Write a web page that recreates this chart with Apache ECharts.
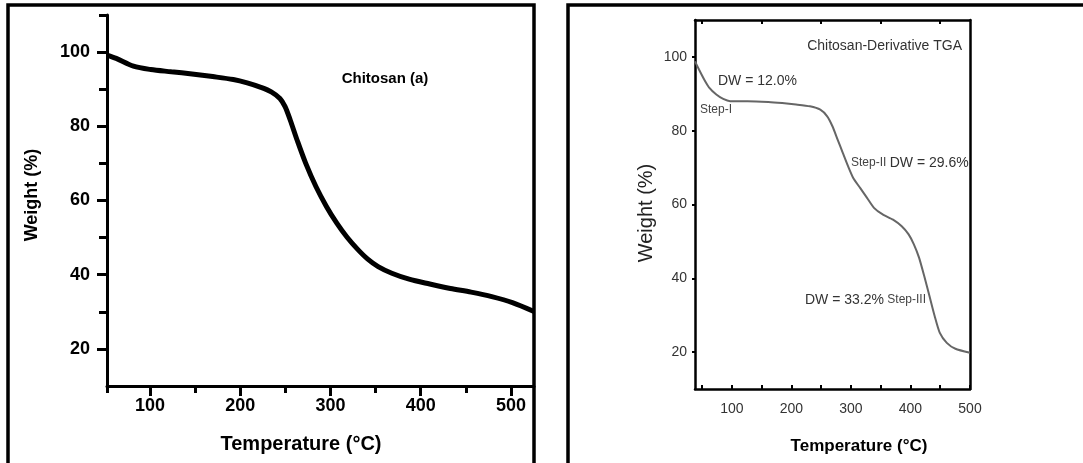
<html>
<head>
    <meta http-equiv="Content-Type" content="text/html; charset=utf-8">
    <script src="https://cdn.jsdelivr.net/npm/echarts@6/dist/echarts.min.js"></script>
    <style>
        * {
            margin: 0;
            padding: 0;
        }

        #main {
            width: 1083px;
            height: 463px;
            background: #fff;
        }
    </style>
</head>
<body>
<div id="main"></div>
<script type="text/javascript">
    // left panel: Chitosan (a)
    let tempA = [52.4, 62.6, 81.7, 100.8, 123.7, 146.6, 169.5, 192.4, 207.7, 222.9, 234.4, 244, 249.7, 255.4, 263,
        272.6, 284, 295.5, 307, 318.4, 329.9, 341.3, 352.8, 368, 387.1, 410, 432.9, 455.8, 478.7, 501.6, 525.5];
    let weightA = [99.2, 98.3, 96.2, 95.3, 94.7, 94.1, 93.4, 92.6, 91.7, 90.5, 89.3, 87.5, 85.3, 81.7, 76.3,
        70.0, 63.7, 58.4, 53.9, 50.1, 46.9, 44.2, 42.2, 40.4, 38.8, 37.5, 36.3, 35.3, 34.1, 32.5, 30.1];

    // right panel: Chitosan-Derivative TGA
    let tempB = [38, 44.7, 53.4, 62.2, 73.8, 85.4, 97.1, 126.2, 161.1, 184.4, 207.7, 231, 248.5, 260.1, 268.9,
        277.6, 286.3, 295.1, 303.8, 315.4, 327, 338.7, 353.3, 370.7, 385.3, 396.9, 405.7, 414.4, 423.1, 431.9,
        440.6, 449.3, 461, 475.5, 500];
    let weightB = [98.8, 96.6, 93.9, 91.6, 89.8, 88.6, 88.0, 88.0, 87.8, 87.5, 87.1, 86.6, 85.7, 83.9, 81.2,
        77.6, 74.0, 70.4, 67.2, 64.5, 61.8, 59.1, 57.3, 55.9, 54.1, 51.9, 49.2, 45.6, 40.6, 35.2,
        29.8, 25.2, 22.5, 20.9, 19.8];

    // tick labels
    let xLabels = [100, 200, 300, 400, 500];
    let yLabels = [20, 40, 60, 80, 100];
    let xMinorA = [52.4, 150, 250, 350, 450];
    let yMinorA = [30, 50, 70, 90, 110];
    let xTicksB = [50, 100, 150, 200, 250, 300, 350, 400, 450, 500];
    let xTopTicksB = [50, 150, 250, 350, 450];

    function pairs(xs, ys) {
        return xs.map(function (x, i) {
            return [x, ys[i]];
        });
    }

    let fontA = {fontFamily: 'Liberation Sans, Arial, sans-serif', fontWeight: 'bold', color: '#000'};
    let fontB = {fontFamily: 'Liberation Sans, Arial, sans-serif', color: '#333'};
    let hidden = {show: false};

    let myChart = echarts.init(document.getElementById('main'));

    let option = {
        animation: false,
        backgroundColor: '#fff',
        grid: [
            {left: 107, top: 15, width: 427, height: 371, outerBoundsMode: 'none'},
            {left: 695, top: 20, width: 275, height: 369, outerBoundsMode: 'none'}
        ],
        xAxis: [
            // left bottom, major ticks + labels
            {
                type: 'value', gridIndex: 0, min: 52.4, max: 525.5, position: 'bottom',
                axisLine: {lineStyle: {color: '#000', width: 3}},
                axisTick: {customValues: xLabels, length: 10, lineStyle: {color: '#000', width: 3}},
                axisLabel: Object.assign({customValues: xLabels, fontSize: 18, margin: 11}, fontA),
                splitLine: hidden
            },
            // left bottom, minor ticks
            {
                type: 'value', gridIndex: 0, min: 52.4, max: 525.5, position: 'bottom',
                axisLine: hidden,
                axisTick: {customValues: xMinorA, length: 7, lineStyle: {color: '#000', width: 3}},
                axisLabel: hidden, splitLine: hidden
            },
            // right bottom
            {
                type: 'value', gridIndex: 1, min: 38, max: 500, position: 'bottom',
                axisLine: {lineStyle: {color: '#000', width: 2.5}},
                axisTick: {customValues: xTicksB, inside: true, length: 4, lineStyle: {color: '#000', width: 2}},
                axisLabel: Object.assign({customValues: xLabels, fontSize: 14, margin: 13}, fontB),
                splitLine: hidden
            },
            // right top
            {
                type: 'value', gridIndex: 1, min: 38, max: 500, position: 'top',
                axisLine: {lineStyle: {color: '#000', width: 2.5}},
                axisTick: {customValues: xTopTicksB, inside: true, length: 4, lineStyle: {color: '#000', width: 2}},
                axisLabel: hidden, splitLine: hidden
            }
        ],
        yAxis: [
            {
                type: 'value', gridIndex: 0, min: 10, max: 110, position: 'left',
                axisLine: {lineStyle: {color: '#000', width: 3}},
                axisTick: {customValues: yLabels, length: 10, lineStyle: {color: '#000', width: 3}},
                axisLabel: Object.assign({customValues: yLabels, fontSize: 18, margin: 17}, fontA),
                splitLine: hidden
            },
            {
                type: 'value', gridIndex: 0, min: 10, max: 110, position: 'left',
                axisLine: hidden,
                axisTick: {customValues: yMinorA, length: 8, lineStyle: {color: '#000', width: 3}},
                axisLabel: hidden, splitLine: hidden
            },
            {
                type: 'value', gridIndex: 1, min: 10, max: 110, position: 'left',
                axisLine: {lineStyle: {color: '#000', width: 2.5}},
                axisTick: {customValues: yLabels, length: 3, lineStyle: {color: '#000', width: 2}},
                axisLabel: Object.assign({customValues: yLabels, fontSize: 14, margin: 8}, fontB),
                splitLine: hidden
            },
            {
                type: 'value', gridIndex: 1, min: 10, max: 110, position: 'right',
                axisLine: {lineStyle: {color: '#000', width: 2.5}},
                axisTick: hidden, axisLabel: hidden, splitLine: hidden
            }
        ],
        series: [
            {
                type: 'line', xAxisIndex: 0, yAxisIndex: 0,
                data: pairs(tempA, weightA),
                showSymbol: false, smooth: 0.3,
                lineStyle: {color: '#000', width: 5}
            },
            {
                type: 'line', xAxisIndex: 2, yAxisIndex: 2,
                data: pairs(tempB, weightB),
                showSymbol: false, smooth: 0.2,
                lineStyle: {color: '#666', width: 2}
            }
        ],
        graphic: [
            // panel frames
            {
                type: 'polyline', silent: true,
                shape: {points: [[8, 470], [8, 5], [534, 5], [534, 470]]},
                style: {stroke: '#000', lineWidth: 3.5, fill: null}
            },
            {
                type: 'polyline', silent: true,
                shape: {points: [[568, 470], [568, 5], [1090, 5]]},
                style: {stroke: '#000', lineWidth: 3.5, fill: null}
            },
            // axis names, left
            {
                type: 'text', x: 301, y: 444,
                style: {text: 'Temperature (°C)', font: 'bold 20px Liberation Sans, Arial', fill: '#000', align: 'center', verticalAlign: 'middle'}
            },
            {
                type: 'text', x: 32, y: 195, rotation: Math.PI / 2,
                style: {text: 'Weight (%)', font: 'bold 18px Liberation Sans, Arial', fill: '#000', align: 'center', verticalAlign: 'middle'}
            },
            {
                type: 'text', x: 385, y: 79,
                style: {text: 'Chitosan (a)', font: 'bold 15px Liberation Sans, Arial', fill: '#000', align: 'center', verticalAlign: 'middle'}
            },
            // axis names, right
            {
                type: 'text', x: 859, y: 446,
                style: {text: 'Temperature (°C)', font: 'bold 17px Liberation Sans, Arial', fill: '#000', align: 'center', verticalAlign: 'middle'}
            },
            {
                type: 'text', x: 646, y: 213, rotation: Math.PI / 2,
                style: {text: 'Weight (%)', font: '20px Liberation Sans, Arial', fill: '#222', align: 'center', verticalAlign: 'middle'}
            },
            // annotations, right
            {
                type: 'text', x: 962, y: 46,
                style: {text: 'Chitosan-Derivative TGA', font: '14px Liberation Sans, Arial', fill: '#333', align: 'right', verticalAlign: 'middle'}
            },
            {
                type: 'text', x: 718, y: 81,
                style: {text: 'DW = 12.0%', font: '14px Liberation Sans, Arial', fill: '#333', align: 'left', verticalAlign: 'middle'}
            },
            {
                type: 'text', x: 700, y: 110,
                style: {text: 'Step-I', font: '12px Liberation Sans, Arial', fill: '#444', align: 'left', verticalAlign: 'middle'}
            },
            {
                type: 'text', x: 851, y: 163,
                style: {
                    text: '{s|Step-II} {d|DW = 29.6%}', align: 'left', verticalAlign: 'middle',
                    rich: {
                        s: {font: '12px Liberation Sans, Arial', fill: '#444'},
                        d: {font: '14px Liberation Sans, Arial', fill: '#333'}
                    }
                }
            },
            {
                type: 'text', x: 805, y: 300,
                style: {
                    text: '{d|DW = 33.2%} {s|Step-III}', align: 'left', verticalAlign: 'middle',
                    rich: {
                        s: {font: '12px Liberation Sans, Arial', fill: '#444'},
                        d: {font: '14px Liberation Sans, Arial', fill: '#333'}
                    }
                }
            }
        ]
    };

    myChart.setOption(option);
</script>
</body>
</html>
